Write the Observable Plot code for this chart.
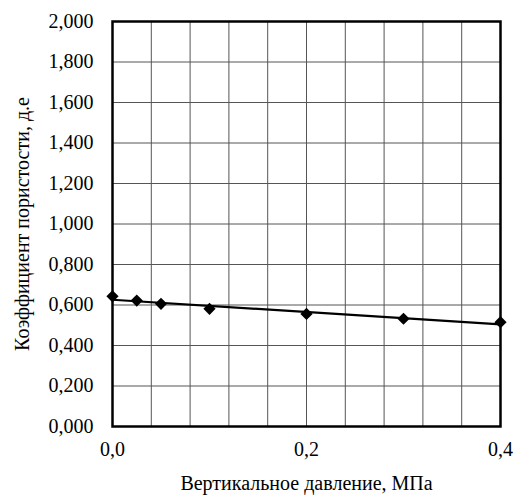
<!DOCTYPE html>
<html>
<head>
<meta charset="utf-8">
<script src="https://cdn.jsdelivr.net/npm/d3@7"></script>
<script src="https://cdn.jsdelivr.net/npm/@observablehq/plot@0.6"></script>
<style>
  html, body { margin: 0; padding: 0; background: #fff; }
</style>
</head>
<body>
<div id="chart"></div>
<script>
const pressure = [0, 0.025, 0.05, 0.1, 0.2, 0.3, 0.4];
const voidRatio = [0.643, 0.622, 0.606, 0.581, 0.556, 0.532, 0.515];
const xTicks = [0, 0.2, 0.4];
const xGrid = [0.04, 0.08, 0.12, 0.16, 0.2, 0.24, 0.28, 0.32, 0.36];
const yTicks = [0, 0.2, 0.4, 0.6, 0.8, 1.0, 1.2, 1.4, 1.6, 1.8, 2.0];
const xTitle = "Вертикальное давление, МПа";
const yTitle = "Коэффициент пористости, д.е";

const data = pressure.map((p, i) => ({p, e: voidRatio[i]}));
const fmtY = d => d.toFixed(3).replace(".", ",");
const fmtX = d => d.toFixed(1).replace(".", ",");
const FF = "Liberation Serif, Times New Roman, serif";

const chart = Plot.plot({
  width: 514,
  height: 499,
  marginLeft: 112,
  marginRight: 14,
  marginTop: 21,
  marginBottom: 73,
  style: {fontFamily: FF, fontSize: "20px", background: "#fff", color: "#000"},
  x: {domain: [0, 0.4]},
  y: {domain: [0, 2]},
  marks: [
    Plot.gridX(xGrid, {stroke: "#555", strokeOpacity: 1, strokeWidth: 1}),
    Plot.gridY(yTicks, {stroke: "#555", strokeOpacity: 1, strokeWidth: 1}),
    Plot.axisY(yTicks, {tickSize: 0, tickPadding: 19, tickFormat: fmtY, label: null, fontSize: 20, fontFamily: FF}),
    Plot.axisX(xTicks, {tickSize: 0, tickPadding: 15, tickFormat: fmtX, label: null, fontSize: 20, fontFamily: FF}),
    Plot.frame({stroke: "#000", strokeWidth: 2.5}),
    Plot.linearRegressionY(data, {x: "p", y: "e", ci: 0, stroke: "#000", strokeWidth: 2.2}),
    Plot.dot(data, {x: "p", y: "e", symbol: "diamond2", r: 5.5, fill: "#000", stroke: "none"}),
    Plot.text([xTitle], {frameAnchor: "bottom", textAnchor: "middle", dy: 63, fontSize: 20, fontFamily: FF}),
    Plot.text([yTitle], {frameAnchor: "left", textAnchor: "middle", rotate: -90, dx: -90, fontSize: 20, fontFamily: FF})
  ]
});
document.getElementById("chart").appendChild(chart);
</script>
</body>
</html>
